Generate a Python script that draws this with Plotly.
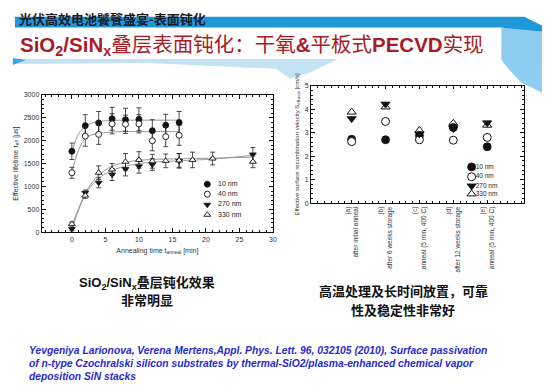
import plotly.graph_objects as go

W, H = 550, 390

# ---------------- left chart data (lifetime vs annealing time) ----------------
series_names = ["10 nm", "40 nm", "270 nm", "330 nm"]

t_thin = [0, 2, 4, 6, 8, 10, 12, 14, 16]
tau_10nm = [1770, 2330, 2390, 2480, 2460, 2470, 2220, 2340, 2400]
err_10nm = [180, 240, 250, 250, 250, 250, 240, 240, 240]
tau_40nm = [1300, 2100, 2140, 2370, 2360, 2370, 2000, 2090, 2120]
err_40nm = [120, 220, 220, 220, 200, 200, 220, 220, 220]

t_270 = [0, 2, 4, 6, 8, 10, 12, 16, 27]
tau_270nm = [70, 860, 1080, 1260, 1380, 1440, 1480, 1560, 1700]
err_270nm = [40, 60, 110, 130, 150, 150, 130, 160, 150]

t_330 = [0, 2, 4, 6, 8, 10, 12, 14, 16, 18, 21, 27]
tau_330nm = [180, 800, 1300, 1370, 1540, 1580, 1550, 1560, 1570, 1580, 1610, 1540]
err_330nm = [40, 60, 150, 130, 180, 180, 150, 150, 150, 170, 140, 130]

# fitted curves
fit_t_thin = [0, 1, 2, 3, 4, 6, 8, 10, 12, 14, 16]
fit_10nm = [1750, 2150, 2310, 2390, 2420, 2445, 2450, 2450, 2450, 2450, 2450]
fit_40nm = [1300, 1800, 2050, 2130, 2160, 2190, 2200, 2200, 2200, 2200, 2200]
fit_t_thick = [0, 1, 2, 3, 4, 6, 8, 10, 12, 16, 21, 27]
fit_270nm = [60, 480, 820, 1030, 1180, 1350, 1440, 1500, 1530, 1560, 1600, 1680]
fit_330nm = [150, 520, 850, 1080, 1250, 1440, 1530, 1570, 1590, 1605, 1620, 1640]

# ---------------- right chart data (S_eff per condition) ----------------
conditions = ["(a)<br>after initial anneal", "(b)<br>after 6 weeks storage",
              "(c)<br>anneal (5 min, 400 C)", "(d)<br>after 12 weeks storage",
              "(e)<br>anneal (5 min, 400 C)"]
cond_pos = [1, 2, 3, 4, 5]
S_10nm = [2.72, 2.70, 2.88, 3.22, 2.40]
S_40nm = [2.62, 3.48, 2.70, 2.68, 2.80]
S_270nm = [3.60, 4.22, 2.95, 3.18, 3.42]
S_330nm = [3.88, 4.10, 3.10, 3.40, 3.32]

# ---------------- texts ----------------
header = "光伏高效电池饕餮盛宴-表面钝化"
title = "<b>SiO<sub>2</sub>/SiN<sub>x</sub></b>叠层表面钝化：干氧<b>&amp;</b>平板式<b>PECVD</b>实现"
cap_left = ["<b>SiO<sub>2</sub>/SiN<sub>x</sub>叠层钝化效果</b>", "<b>非常明显</b>"]
cap_right = ["<b>高温处理及长时间放置，可靠</b>", "<b>性及稳定性非常好</b>"]
citation = ["Yevgeniya Larionova, Verena Mertens,Appl. Phys. Lett. 96, 032105 (2010), Surface passivation",
            "of n-type Czochralski silicon substrates by thermal-SiO2/plasma-enhanced chemical vapor",
            "deposition SiN stacks"]


def px(x, y):
    return x / W, 1 - y / H


fig = go.Figure()

# ---- left chart traces ----
err_style = dict(type="data", thickness=0.8, width=2.5, color="#222")
for fx, fy in [(fit_t_thin, fit_10nm), (fit_t_thin, fit_40nm), (fit_t_thick, fit_270nm), (fit_t_thick, fit_330nm)]:
    fig.add_trace(go.Scatter(x=fx, y=fy, mode="lines", line=dict(color="#9a9a9a", width=1, shape="spline"),
                             xaxis="x", yaxis="y", showlegend=False))

left_series = [
    (t_thin, tau_10nm, err_10nm, dict(symbol="circle", size=6, color="#111", line=dict(width=0.8, color="#111"))),
    (t_thin, tau_40nm, err_40nm, dict(symbol="circle", size=6, color="white", line=dict(width=0.9, color="#111"))),
    (t_270, tau_270nm, err_270nm, dict(symbol="triangle-down", size=6, color="#111", line=dict(width=0.8, color="#111"))),
    (t_330, tau_330nm, err_330nm, dict(symbol="triangle-up", size=6, color="white", line=dict(width=0.9, color="#111"))),
]
for xs, ys, es, mk in left_series:
    fig.add_trace(go.Scatter(x=xs, y=ys, mode="markers", marker=mk,
                             error_y=dict(array=es, **err_style),
                             xaxis="x", yaxis="y", showlegend=False))

# left legend (drawn inside the axes)
leg_left_x = 20.2
leg_left_y = [1050, 830, 600, 380]
for (xs, ys, es, mk), ly, name in zip(left_series, leg_left_y, series_names):
    fig.add_trace(go.Scatter(x=[leg_left_x], y=[ly], mode="markers", marker=mk,
                             xaxis="x", yaxis="y", showlegend=False))
    fig.add_trace(go.Scatter(x=[leg_left_x + 1.6], y=[ly], mode="text", text=[name],
                             textposition="middle right", textfont=dict(size=7, color="#222"),
                             xaxis="x", yaxis="y", showlegend=False))

# ---- right chart traces ----
right_series = [
    (S_10nm, dict(symbol="circle", size=8, color="#111", line=dict(width=0.8, color="#111"))),
    (S_40nm, dict(symbol="circle", size=8, color="white", line=dict(width=1, color="#111"))),
    (S_270nm, dict(symbol="triangle-down", size=8, color="#111", line=dict(width=0.8, color="#111"))),
    (S_330nm, dict(symbol="triangle-up-open", size=8, color="#111", line=dict(width=1, color="#111"))),
]
for ys, mk in right_series:
    fig.add_trace(go.Scatter(x=cond_pos, y=ys, mode="markers", marker=mk,
                             xaxis="x2", yaxis="y2", showlegend=False))

leg_right_x = 4.54
leg_right_y = [1.54, 1.12, 0.73, 0.39]
for (ys, mk), ly, name in zip(right_series, leg_right_y, series_names):
    fig.add_trace(go.Scatter(x=[leg_right_x], y=[ly], mode="markers", marker=mk,
                             xaxis="x2", yaxis="y2", showlegend=False))
    fig.add_trace(go.Scatter(x=[leg_right_x + 0.12], y=[ly], mode="text", text=[name],
                             textposition="middle right", textfont=dict(size=6.5, color="#222"),
                             xaxis="x2", yaxis="y2", showlegend=False))

# ---- axes ----
ax_common = dict(showline=True, linecolor="#111", linewidth=1, mirror="allticks", ticks="inside",
                 showgrid=False, zeroline=False, tickcolor="#111", tickfont=dict(size=7, color="#333"))

x0l, x1l = 42 / W, 275 / W
y1l, y0l = 1 - 92.7 / H, 1 - 232.3 / H
x0r, x1r = 313.3 / W, 528.3 / W
y1r, y0r = 1 - 83.3 / H, 1 - 202.7 / H

fig.update_layout(
    width=W, height=H, autosize=False,
    margin=dict(l=0, r=0, t=0, b=0),
    paper_bgcolor="white", plot_bgcolor="white",
    font=dict(family="Liberation Sans, Arial, Noto Sans CJK SC", color="#222"),
    xaxis=dict(domain=[x0l, x1l], range=[-4.5, 30], tick0=0, dtick=5, ticklen=4,
               minor=dict(ticks="inside", ticklen=2, dtick=1, tick0=0, tickcolor="#111"),
               title=dict(text="Annealing time t<sub>anneal</sub> [min]", font=dict(size=7, color="#333"), standoff=6),
               anchor="y", **ax_common),
    yaxis=dict(domain=[y0l, y1l], range=[0, 3000], tick0=0, dtick=500, ticklen=4,
               minor=dict(ticks="inside", ticklen=2, dtick=100, tick0=0, tickcolor="#111"),
               title=dict(text="Effective lifetime τ<sub>eff</sub> [µs]", font=dict(size=7, color="#333"), standoff=4),
               anchor="x", **ax_common),
    xaxis2=dict(domain=[x0r, x1r], range=[-0.2, 6.1], tickvals=cond_pos, ticktext=conditions,
                tickangle=-90, ticklen=3,
                minor=dict(ticks="inside", ticklen=2, dtick=0.2, tick0=0, tickcolor="#111"),
                anchor="y2", **{**ax_common, "tickfont": dict(size=6.5, color="#333")}),
    yaxis2=dict(domain=[y0r, y1r], range=[0, 5], tick0=0, dtick=1, ticklen=4,
                minor=dict(ticks="inside", ticklen=2, dtick=0.2, tick0=0, tickcolor="#111"),
                title=dict(text="Effective surface recombination velocity S<sub>eff,max</sub> [cm/s]",
                           font=dict(size=6, color="#333"), standoff=4),
                anchor="x2", **ax_common),
)

# ---- decorative slide shapes (paper coords) ----
def path(points, close=True):
    s = ""
    for i, (x, y) in enumerate(points):
        a, b = px(x, y)
        s += ("M" if i == 0 else "L") + f"{a:.4f},{b:.4f} "
    return s + ("Z" if close else "")

deco = dict(xref="paper", yref="paper", line=dict(width=0), layer="below", type="path")
shapes = [
    dict(path=path([(13, 56), (340, 56), (312, 70), (292, 76), (278, 66), (150, 60), (13, 61)]),
         fillcolor="#c3e3f5", **deco),
    dict(path=path([(505, 24), (546, 22), (546, 90), (525, 80), (512, 66), (505, 57)]), fillcolor="#8ccdf0", **deco),
    dict(path=path([(15, 13), (528, 13), (546, 22), (546, 28), (505, 24), (15, 24)]), fillcolor="#1f98da", **deco),
    dict(path=path([(13, 55), (26, 57), (13, 62)]), fillcolor="#3aa5e0", **deco),
]
fig.update_layout(shapes=shapes)

# ---- annotations ----
ann = []
hx, hy = px(17, 15)
ann.append(dict(x=hx, y=hy, xref="paper", yref="paper", text="<b>" + header + "</b>", showarrow=False,
                xanchor="left", yanchor="middle",
                font=dict(size=13, color="#1a1a2a", family="Noto Sans CJK SC")))
tx, ty = px(18, 43)
ann.append(dict(x=tx, y=ty, xref="paper", yref="paper", text=title, showarrow=False,
                xanchor="left", yanchor="middle",
                font=dict(size=20.5, color="#a81c26", family="Liberation Sans, Noto Sans CJK SC")))
for txt, yy in zip(cap_left, [285, 302]):
    cx, cy = px(148, yy)
    ann.append(dict(x=cx, y=cy, xref="paper", yref="paper", text=txt, showarrow=False,
                    xanchor="center", yanchor="middle",
                    font=dict(size=13, color="#111", family="Liberation Sans, Noto Sans CJK SC")))
for txt, yy in zip(cap_right, [292, 311]):
    cx, cy = px(406, yy)
    ann.append(dict(x=cx, y=cy, xref="paper", yref="paper", text=txt, showarrow=False,
                    xanchor="center", yanchor="middle",
                    font=dict(size=13, color="#111", family="Noto Sans CJK SC")))
for txt, yy in zip(citation, [353, 366.5, 379.5]):
    cx, cy = px(27, yy)
    ann.append(dict(x=cx, y=cy, xref="paper", yref="paper", text="<b><i>" + txt + "</i></b>", showarrow=False,
                    xanchor="left", yanchor="middle",
                    font=dict(size=10.3, color="#2a2ad0", family="Liberation Sans, Arial")))
fig.update_layout(annotations=ann)

fig.write_html("out.html", config={"displayModeBar": False},
               post_script="document.body.style.margin='0px';")
